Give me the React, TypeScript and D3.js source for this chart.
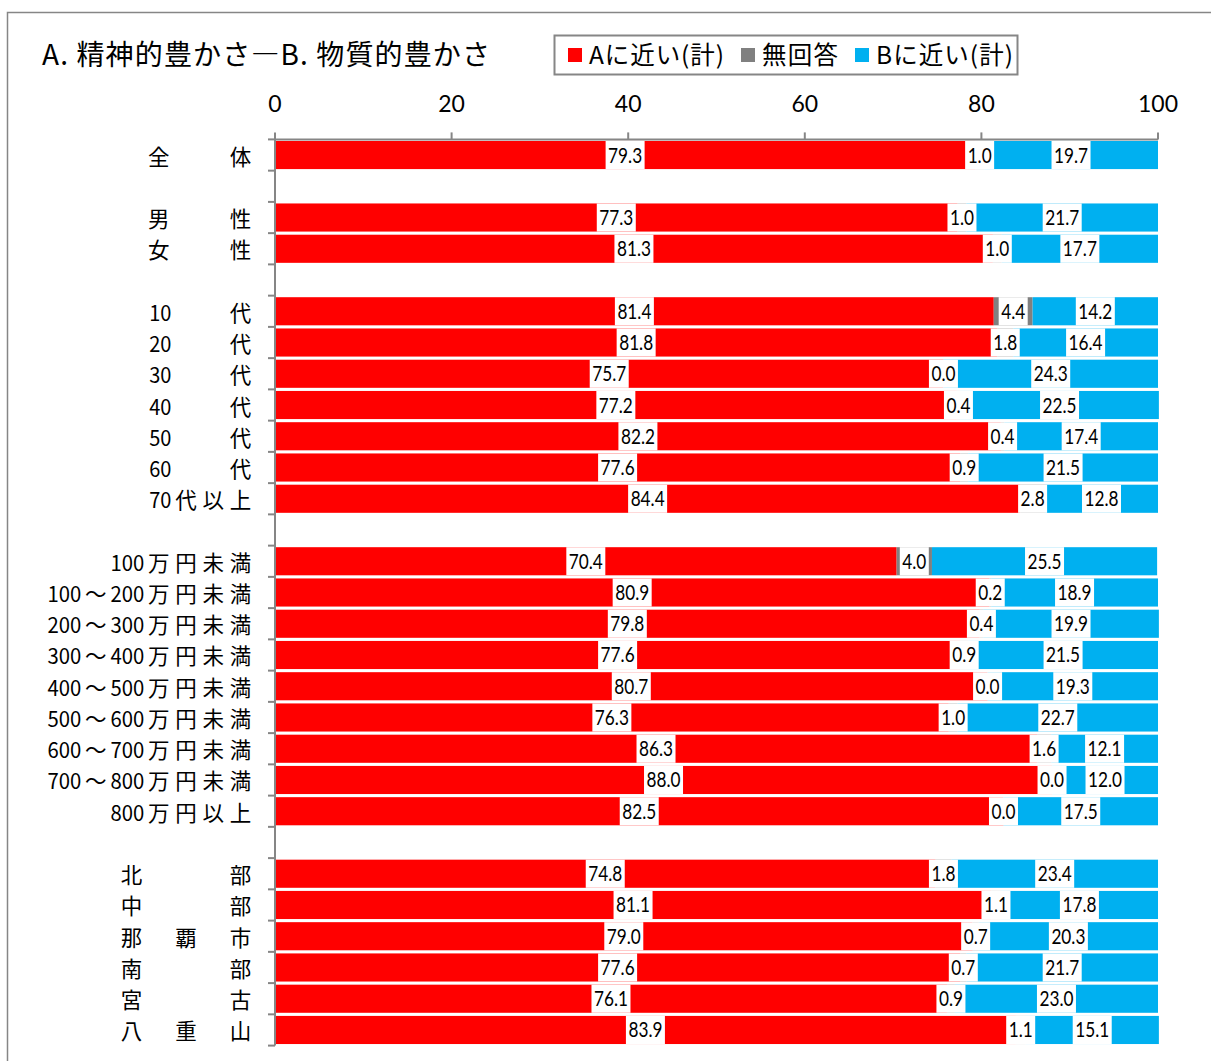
import React from "react";
import * as d3 from "d3";

const categories = [
  "全　　体",
  "男　　性", "女　　性",
  "10　　代", "20　　代", "30　　代", "40　　代", "50　　代", "60　　代", "70代以上",
  "100万円未満", "100～200万円未満", "200～300万円未満", "300～400万円未満", "400～500万円未満",
  "500～600万円未満", "600～700万円未満", "700～800万円未満", "800万円以上",
  "北　　　部", "中　　　部", "那　覇　市", "南　　　部", "宮　　　古", "八　重　山",
];
const aNear = [79.3, 77.3, 81.3, 81.4, 81.8, 75.7, 77.2, 82.2, 77.6, 84.4, 70.4, 80.9, 79.8, 77.6, 80.7, 76.3, 86.3, 88.0, 82.5, 74.8, 81.1, 79.0, 77.6, 76.1, 83.9];
const noAnswer = [1.0, 1.0, 1.0, 4.4, 1.8, 0.0, 0.4, 0.4, 0.9, 2.8, 4.0, 0.2, 0.4, 0.9, 0.0, 1.0, 1.6, 0.0, 0.0, 1.8, 1.1, 0.7, 0.7, 0.9, 1.1];
const bNear = [19.7, 21.7, 17.7, 14.2, 16.4, 24.3, 22.5, 17.4, 21.5, 12.8, 25.5, 18.9, 19.9, 21.5, 19.3, 22.7, 12.1, 12.0, 17.5, 23.4, 17.8, 20.3, 21.7, 23.0, 15.1];
// a blank row follows each of these category indices
const groupBreaksAfter = [0, 2, 9, 18];
const xTicks = [0, 20, 40, 60, 80, 100];

const seriesNames = ["Aに近い(計)", "無回答", "Bに近い(計)"];
const seriesColors = ["#FF0000", "#808080", "#00B0F0"];
const titleText = "A. 精神的豊かさ―B. 物質的豊かさ";

const W = 1211;
const H = 1061;
const AXIS = "#868686";
const CJK = "'Noto Sans CJK JP', 'Noto Sans CJK SC', sans-serif";
const NUM = "Lato, 'Open Sans', sans-serif";
const CAT_FS = 21.5;
const CELL = 27.2;
const DIGIT = 11.6;

type Row = { idx: number | null };

function buildRows(): Row[] {
  const rows: Row[] = [];
  categories.forEach((_, i) => {
    rows.push({ idx: i });
    if (groupBreaksAfter.includes(i)) rows.push({ idx: null });
  });
  return rows;
}

function labelWidth(s: string) {
  let w = 0;
  for (const ch of s) w += ch === "." ? 4 : 10;
  return w + 5;
}

function CategoryLabel({ text, right, y }: { text: string; right: number; y: number }) {
  const tokens = text.match(/(\d+|.)/g) || [];
  const widths = tokens.map((t) => (/^\d+$/.test(t) ? t.length * DIGIT + 1 : CELL));
  const total = d3.sum(widths);
  let cur = right - total;
  const items = tokens.map((t, i) => {
    const cx = cur + widths[i] / 2;
    cur += widths[i];
    return { t, cx };
  });
  return (
    <g>
      {items.map(({ t, cx }, i) =>
        t === "　" ? null : (
          <text
            key={i}
            x={cx}
            y={y}
            textAnchor="middle"
            dominantBaseline="central"
            fontFamily={CJK}
            fontSize={CAT_FS}
            fill="#000"
            {...(/^\d+$/.test(t) ? { textLength: t.length * DIGIT - 1, lengthAdjust: "spacingAndGlyphs" } : {})}
          >
            {t}
          </text>
        )
      )}
    </g>
  );
}

export default function App() {
  const rows = buildRows();
  const x = d3.scaleLinear().domain([0, 100]).range([275, 1158]);
  const y = d3
    .scaleBand<number>()
    .domain(rows.map((_, i) => i))
    .range([139.4, 1045.6])
    .paddingInner(0.1)
    .paddingOuter(0.05);
  const bw = y.bandwidth();
  const step = y.step();
  const top = 139.4;
  const bottom = 1045.6;

  const series = [aNear, noAnswer, bNear];

  return (
    <svg
      width={W}
      height={H}
      style={{ position: "absolute", left: 0, top: 0, background: "#fff" }}
      xmlns="http://www.w3.org/2000/svg"
    >
      <rect x={0} y={0} width={W} height={H} fill="#fff" />
      <rect x={7.5} y={12.5} width={W + 20} height={H + 20} fill="#fff" stroke={AXIS} strokeWidth={1.5} />

      {/* title */}
      <text
        x={42}
        y={65}
        fontFamily={CJK}
        fontSize={28}
        fill="#000"
        textLength={448}
        lengthAdjust="spacing"
      >
        {titleText}
      </text>

      {/* legend */}
      <g>
        <rect x={554.5} y={35.5} width={463} height={39} fill="#fff" stroke={AXIS} strokeWidth={2} />
        {seriesNames.map((name, i) => {
          const sx = [568, 741, 855][i];
          const tl = [135, 76, 137][i];
          return (
            <g key={name}>
              <rect x={sx} y={48} width={14} height={14} fill={seriesColors[i]} />
              <text
                x={sx + 21}
                y={64}
                fontFamily={CJK}
                fontSize={24.5}
                fill="#000"
                textLength={tl}
                lengthAdjust="spacing"
              >
                {name}
              </text>
            </g>
          );
        })}
      </g>

      {/* x axis tick labels */}
      {xTicks.map((t) => (
        <text key={t} x={x(t)} y={112} textAnchor="middle" fontFamily={NUM} fontSize={23} fill="#000">
          {t}
        </text>
      ))}

      {/* bars */}
      {rows.map((r, ri) => {
        if (r.idx === null) return null;
        const i = r.idx;
        const y0 = y(ri)!;
        let acc = 0;
        return (
          <g key={ri}>
            {series.map((s, si) => {
              const v = s[i];
              const x0 = x(acc);
              acc += v;
              const x1 = x(acc);
              return <rect key={si} x={x0} y={y0} width={Math.max(0, x1 - x0)} height={bw} fill={seriesColors[si]} />;
            })}
          </g>
        );
      })}

      {/* value labels */}
      {rows.map((r, ri) => {
        if (r.idx === null) return null;
        const i = r.idx;
        const yc = y(ri)! + bw / 2;
        let acc = 0;
        return (
          <g key={ri}>
            {series.map((s, si) => {
              const v = s[i];
              const c = x(acc + v / 2);
              acc += v;
              const txt = v.toFixed(1);
              const lw = labelWidth(txt);
              return (
                <g key={si}>
                  <rect x={c - lw / 2} y={y(ri)!} width={lw} height={bw} fill="#fff" />
                  <text
                    transform={`translate(${c},${yc + 7.5}) scale(0.82,1)`}
                    textAnchor="middle"
                    fontFamily={NUM}
                    fontSize={21}
                    fill="#000"
                  >
                    {txt}
                  </text>
                </g>
              );
            })}
          </g>
        );
      })}

      {/* axes */}
      <line x1={x(0)} x2={x(100)} y1={top} y2={top} stroke={AXIS} strokeWidth={2} />
      {xTicks.map((t) => (
        <line key={t} x1={x(t)} x2={x(t)} y1={top} y2={top - 7} stroke={AXIS} strokeWidth={2} />
      ))}
      <line x1={x(0)} x2={x(0)} y1={top} y2={bottom} stroke={AXIS} strokeWidth={2} />
      {d3.range(rows.length + 1).map((k) => (
        <line key={k} x1={x(0) - 7} x2={x(0)} y1={top + k * step} y2={top + k * step} stroke={AXIS} strokeWidth={2} />
      ))}

      {/* category labels */}
      {rows.map((r, ri) =>
        r.idx === null ? null : (
          <CategoryLabel key={ri} text={categories[r.idx]} right={254} y={y(ri)! + bw / 2} />
        )
      )}
    </svg>
  );
}
